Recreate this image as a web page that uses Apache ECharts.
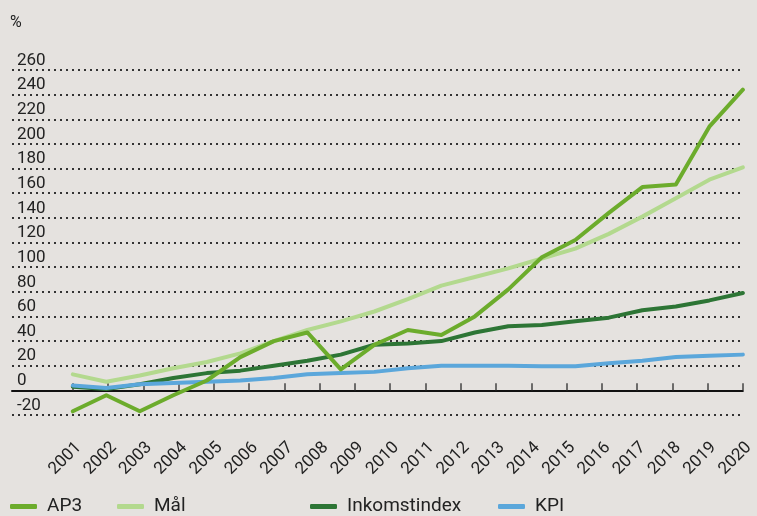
<!DOCTYPE html>
<html>
<head>
    <meta charset="utf-8">
    <title>AP3</title>
    <script src="https://cdn.jsdelivr.net/npm/echarts@6/dist/echarts.min.js"></script>
    <style>
        html, body { margin: 0; padding: 0; background: #e5e2df; }
    </style>
</head>
<body>
<div id="chart1" style="width:757px;height:516px;"></div>
<script type="text/javascript">
    // årtal på x-axeln
    var aar = ['2001', '2002', '2003', '2004', '2005', '2006', '2007', '2008', '2009', '2010',
        '2011', '2012', '2013', '2014', '2015', '2016', '2017', '2018', '2019', '2020'];
    // y-axelns steg
    var yMin = -20;
    var yMax = 260;
    var yStep = 20;

    // serierna, 21 punkter var
    var ap3 = [-17, -4, -17, -4, 8, 27, 40, 47, 17, 37, 49, 45, 60, 82, 108, 122, 144, 165, 167, 214, 244];
    var mal = [13, 7, 12, 18, 23, 30, 40, 49, 56, 64, 74, 85, 92, 99, 107, 115, 127, 141, 156, 171, 181];
    var inkomst = [3, 1, 5, 10, 14, 16, 20, 24, 29, 37, 38, 40, 47, 52, 53, 56, 59, 65, 68, 73, 79];
    var kpi = [4, 2, 5, 6, 7, 8, 10, 13, 14, 15, 18, 20, 20, 20, 19.5, 19.5, 22, 24, 27, 28, 29];

    var farger = {
        'AP3': '#6cac2c',
        'Mål': '#b3d98e',
        'Inkomstindex': '#2d7535',
        'KPI': '#5ba7db'
    };

    function punkter(arr) {
        return arr.map(function (v, i) { return [i, v]; });
    }

    var tickIdx = aar.map(function (a, i) { return i; });

    var myChart1 = echarts.init(document.getElementById('chart1'));

    function linje(namn, arr, z) {
        return {
            name: namn,
            type: 'line',
            xAxisIndex: 1,
            data: punkter(arr),
            symbol: 'none',
            z: z,
            lineStyle: { width: 4, color: farger[namn], cap: 'round', join: 'round' },
            itemStyle: { color: farger[namn] }
        };
    }

    function legend(namn, left) {
        return {
            data: [namn],
            left: left,
            top: 497,
            padding: 0,
            icon: 'roundRect',
            itemWidth: 27,
            itemHeight: 5,
            selectedMode: false,
            textStyle: { fontFamily: 'Roboto', fontSize: 19, color: '#222', padding: [0, 0, 0, 5] }
        };
    }

    myChart1.setOption({
        backgroundColor: '#e5e2df',
        animation: false,
        textStyle: { fontFamily: 'Roboto' },
        graphic: [{
            type: 'text',
            left: 10,
            top: 15,
            style: { text: '%', fontFamily: 'Roboto', fontSize: 16, fill: '#222' }
        }],
        legend: [
            legend('AP3', 10),
            legend('Mål', 117),
            legend('Inkomstindex', 310),
            legend('KPI', 498)
        ],
        grid: { left: 12, right: 12, top: 70, bottom: 101 },
        xAxis: [{
            type: 'value',
            min: -1.724,
            max: 19,
            splitLine: { show: false },
            axisLine: { onZero: true, lineStyle: { color: '#111', width: 2 } },
            axisTick: { show: true, inside: true, length: 7, customValues: tickIdx, lineStyle: { color: '#444', width: 1.5 } },
            axisLabel: {
                customValues: tickIdx,
                rotate: 45,
                margin: 24,
                verticalAlign: 'top',
                fontSize: 17,
                color: '#222',
                formatter: function (v) { return aar[Math.round(v)]; }
            }
        }, {
            type: 'value',
            min: -1.815,
            max: 20,
            show: false,
            splitLine: { show: false }
        }],
        yAxis: {
            type: 'value',
            min: yMin,
            max: yMax,
            interval: yStep,
            axisLine: { show: false, onZero: false },
            axisTick: { show: false },
            axisLabel: {
                inside: true,
                margin: 5,
                align: 'left',
                verticalAlign: 'bottom',
                padding: [0, 0, 1, 0],
                fontSize: 17,
                color: '#222'
            },
            splitLine: { lineStyle: { color: '#333', width: 2, type: [2, 4] } }
        },
        series: [
            linje('Mål', mal, 2),
            linje('Inkomstindex', inkomst, 3),
            linje('KPI', kpi, 4),
            linje('AP3', ap3, 5)
        ]
    });
</script>
</body>
</html>
